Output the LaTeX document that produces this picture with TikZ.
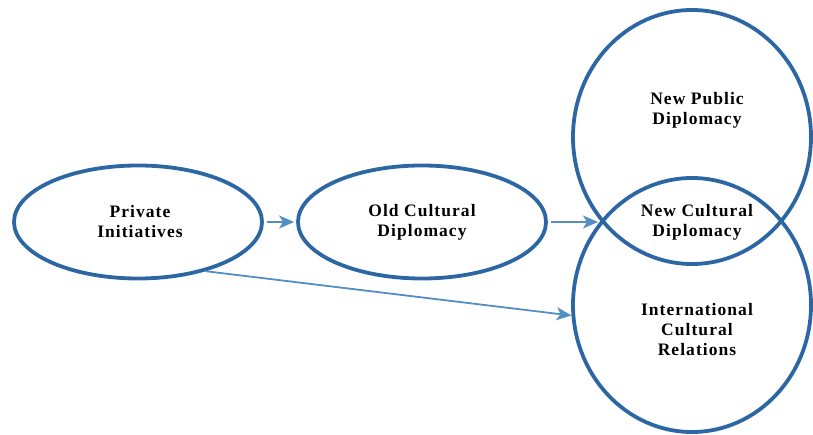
\documentclass[tikz,border=0pt]{standalone}
\usepackage{fontspec}
\setmainfont{Liberation Serif}
\usetikzlibrary{shapes.geometric,arrows.meta}
\definecolor{ringblue}{RGB}{44,103,163}
\definecolor{arrowblue}{RGB}{84,143,196}
\tikzset{
  ring/.style={ellipse, draw=ringblue, line width=3.8pt, inner sep=0pt},
  label/.style={align=center, font=\fontsize{17.5}{20}\selectfont\bfseries\addfontfeature{LetterSpace=6}},
  conn/.style={draw=arrowblue, line width=2.2pt, -{Stealth[length=15pt,width=13pt,inset=4pt]}}
}
\begin{document}
\begin{tikzpicture}[x=1pt,y=1pt]
\useasboundingbox (0,0) rectangle (813,-435);
\node[ring, minimum width=248pt, minimum height=113pt] (pi) at (138,-222) {};
\node[label] (pit) at (140,-222) {Private\\Initiatives};
\node[ring, minimum width=248pt, minimum height=113pt] (oc) at (422,-222) {};
\node[label] (oct) at (422,-222) {Old Cultural\\Diplomacy};
\node[ring, minimum width=238pt, minimum height=254pt] (npd) at (692,-137) {};
\node[ring, minimum width=238pt, minimum height=254pt] (icr) at (692,-305) {};
\node[label] (npdt) at (697,-110) {New Public\\Diplomacy};
\node[label] (ncdt) at (697,-222) {New Cultural\\Diplomacy};
\node[label] (icrt) at (697,-330) {International\\Cultural\\Relations};
\coordinate (ncd) at (598,-222);
\draw[conn, shorten <=3pt, shorten >=2pt] (pi.east) -- (oc.west);
\draw[conn, shorten <=3pt] (oc.east) -- (ncd);
\draw[conn, line width=1.8pt] (pi.-36) -- (icr.185);
\end{tikzpicture}
\end{document}
